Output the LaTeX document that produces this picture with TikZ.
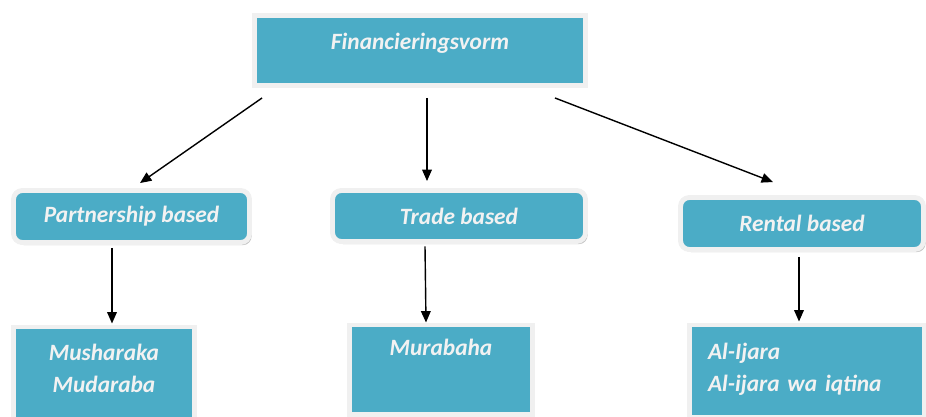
\documentclass[tikz,border=0pt]{standalone}
\usepackage{fontspec}
\setmainfont{Carlito}
\usetikzlibrary{arrows.meta,shadows}

\definecolor{boxteal}{HTML}{4BACC6}
\definecolor{boxframe}{HTML}{F0F0F0}
\definecolor{boxtext}{HTML}{F2F2F2}

\tikzset{
  box/.style={fill=boxteal, draw=boxframe, line width=2.8pt, text=boxtext,
    font=\fontsize{13.3pt}{18pt}\selectfont\bfseries\itshape,
    drop shadow={shadow xshift=1.2pt, shadow yshift=-1.5pt, fill=black!30, opacity=0.8}},
  groupbox/.style={box, rounded corners=5pt, inner sep=0pt},
  leafbox/.style={box, inner ysep=0pt, align=center},
  arr/.style={-{Triangle[width=5.5pt,length=6.5pt]}, line width=0.8pt, black}
}

\begin{document}
\begin{tikzpicture}[x=0.02cm, y=-0.02cm]
  \useasboundingbox (0,0) rectangle (926,416);
  \clip (0,0) rectangle (926,416);

  % top level
  \node[box, minimum width=6.62cm, inner sep=0pt, text height=0.67cm, text depth=0.73cm] (fin) at (420,50.5) {Financieringsvorm};

  % second level
  \node[groupbox, minimum width=4.72cm, minimum height=1.04cm] (part) at (131.5,216.5) {Partnership based};
  \node[groupbox, minimum width=5.06cm, minimum height=1.02cm] (trade) at (459,216) {Trade based};
  \node[groupbox, minimum width=4.86cm, minimum height=1.04cm] (rent) at (802,223.5) {Rental based};

  % third level
  \node[leafbox, anchor=north, text width=3.62cm, inner xsep=0pt, text height=0.67cm, text depth=1.73cm] (mush) at (104,324.5) {Musharaka\\Mudaraba};
  \node[leafbox, anchor=north, minimum width=3.66cm, text height=0.61cm, text depth=1.19cm] (mura) at (441,322.5) {Murabaha};
  \node[leafbox, anchor=north, align=left, text width=3.96cm, inner xsep=0.37cm, text height=0.69cm, text depth=1.17cm] (ijara) at (807,322.5) {Al-Ijara\\Al-ijara wa iqtina};

  % arrows
  \draw[arr] ([shift={(10,10)}]fin.south west) -- ([shift={(8.5,-5)}]part.north);
  \draw[arr] ([shift={(7,10)}]fin.south) -- ([shift={(-32,-7)}]trade.north);
  \draw[arr] ([shift={(-33,10)}]fin.south east) -- ([shift={(-29,-13)}]rent.north);

  \draw[arr] ([shift={(-19.5,3)}]part.south) -- ([shift={(8,-1)}]mush.north);
  \draw[arr] ([shift={(-34,2.5)}]trade.south) -- ([shift={(-15,0)}]mura.north);
  \draw[arr] ([shift={(-3,5)}]rent.south) -- ([shift={(-8,-1)}]ijara.north);
\end{tikzpicture}
\end{document}
